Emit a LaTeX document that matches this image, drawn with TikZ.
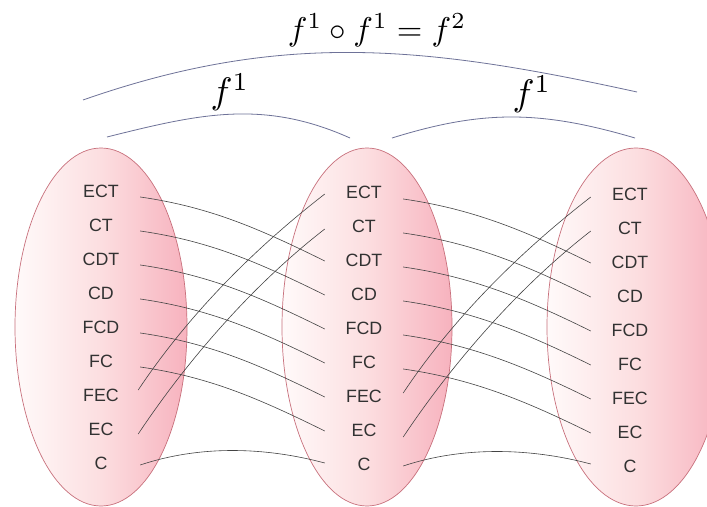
\documentclass[tikz,border=0pt]{standalone}
\usepackage{fontspec}
\newfontfamily\lab{Liberation Sans}
\usetikzlibrary{shapes.geometric,calc}
\definecolor{pinkL}{RGB}{255,250,250}
\definecolor{pinkM}{RGB}{252,222,224}
\definecolor{pinkR}{RGB}{247,178,190}
\definecolor{rim}{RGB}{200,112,124}
\definecolor{txt}{RGB}{50,50,50}
\definecolor{wire}{RGB}{68,68,68}
\definecolor{arcc}{RGB}{110,114,152}
\tikzset{
  setell/.style={ellipse, draw=rim, line width=0.7bp, left color=pinkL, right color=pinkR, middle color=pinkM,
    minimum width=#1, minimum height=358bp, inner sep=0pt},
  lab/.style={font=\lab\fontsize{17.8bp}{20bp}\selectfont, text=txt, minimum width=78bp, inner sep=0pt, align=center},
  wirel/.style={draw=wire, line width=0.6bp},
  arcl/.style={draw=arcc, line width=0.8bp},
  mathlab/.style={inner sep=0pt, scale=#1}
}
\begin{document}
\begin{tikzpicture}[x=1bp,y=-1bp]
\clip (0,0) rectangle (707,507);
\fill[white] (0,0) rectangle (707,507);
% sets
\node[setell=172bp] (A) at (101,327) {};
\node[setell=170bp] (B) at (367,327) {};
\node[setell=178bp] (Cs) at (636,327) {};
% labels
\foreach \t [count=\i] in {ECT,CT,CDT,CD,FCD,FC,FEC,EC,C} {
  \node[lab] (a\i) at (101,{191+34*(\i-1)}) {\t};
  \node[lab] (b\i) at (364,{192+34*(\i-1)}) {\t};
  \node[lab] (c\i) at (630,{194+34*(\i-1)}) {\t};
}
% downward connectors
\foreach \i in {1,...,6} {
  \pgfmathtruncatemacro\j{\i+2}
  \draw[wirel] ($(a\i.east)+(0,6)$) .. controls +(70,10) and +(-65,-32) .. ($(b\j.west)+(0,1)$);
  \draw[wirel] ($(b\i.east)+(0,7)$) .. controls +(70,10) and +(-65,-32) .. ($(c\j.west)+(0,1)$);
}
% upward connectors
\draw[wirel] ($(a7.east)+(-2,-5)$) .. controls +(50,-75) and +(-71,55) .. ($(b1.west)+(0,2)$);
\draw[wirel] ($(a8.east)+(-2,5)$) .. controls +(50,-75) and +(-71,55) .. ($(b2.west)+(0,3)$);
\draw[wirel] ($(b7.east)+(0,-3)$) .. controls +(50,-75) and +(-71,55) .. ($(c1.west)+(0,3)$);
\draw[wirel] ($(b8.east)+(0,7)$) .. controls +(50,-75) and +(-71,55) .. ($(c2.west)+(0,3)$);
% C to C
\draw[wirel] ($(a9.east)+(0,2)$) .. controls +(60,-20) and +(-60,-16) .. ($(b9.west)+(0,-1)$);
\draw[wirel] ($(b9.east)+(0,2)$) .. controls +(60,-20) and +(-60,-16) .. ($(c9.west)+(0,-2)$);
% top arcs
\coordinate (g1) at (83,100);
\coordinate (g2) at (637,92);
\coordinate (h1) at (107,137);
\coordinate (h2) at (350,138);
\coordinate (k1) at (392,138);
\coordinate (k2) at (635,138);
\draw[arcl] (g1) .. controls +(200,-70) and +(-210,-46) .. (g2);
\draw[arcl] (h1) .. controls +(92,-23) and +(-87,-39) .. (h2);
\draw[arcl] (k1) .. controls +(90,-28) and +(-95,-28) .. (k2);
% math labels
\node[mathlab=3.3] (title) at (377,30) {$f^1\circ f^1=f^2$};
\node[mathlab=3.7] (fl) at (230,92) {$f^1$};
\node[mathlab=3.7] (fr) at (532,94) {$f^1$};
\end{tikzpicture}
\end{document}
